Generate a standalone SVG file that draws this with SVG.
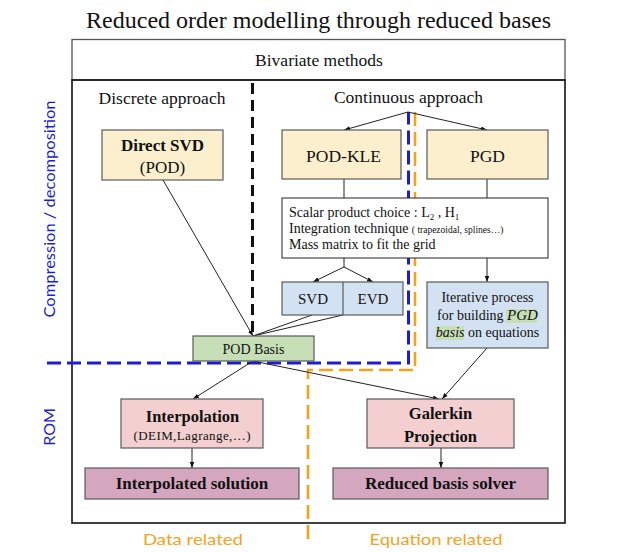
<svg xmlns="http://www.w3.org/2000/svg" width="630" height="552" viewBox="0 0 630 552">
<defs>
<marker id="ah" viewBox="0 0 8 8" refX="8" refY="4" markerWidth="6" markerHeight="6" orient="auto" markerUnits="userSpaceOnUse">
<path d="M0,1 L8,4 L0,7 Z" fill="#111"/>
</marker>
<style>
.s{font-family:"Liberation Serif","Times New Roman",serif;fill:#111}
.b{font-weight:bold}
.h{font-family:"Lato","Open Sans",sans-serif}
.bx{stroke:#5a5a5a;stroke-width:1.2}
.y{fill:#fcefce}
.bl{fill:#d3e2f2}
.g{fill:#c6dfb6}
.p{fill:#f3cfcf}
.m{fill:#d5a7be}
.c line,.c path{stroke:#222;stroke-width:1;fill:none}
</style>
</defs>
<rect width="630" height="552" fill="#fff"/>
<text class="s" x="318.5" y="28" font-size="23.5" text-anchor="middle" textLength="465" lengthAdjust="spacingAndGlyphs">Reduced order modelling through reduced bases</text>

<g id="frame">
<rect x="72" y="39.5" width="493" height="40.5" fill="none" stroke="#555" stroke-width="1.3"/>
<rect x="72" y="80" width="493" height="443" fill="none" stroke="#111" stroke-width="1.6"/>
<text class="s" x="319" y="66" font-size="17.5" text-anchor="middle">Bivariate methods</text>
<text class="s" x="162" y="104" font-size="17.5" text-anchor="middle">Discrete approach</text>
<text class="s" x="408.5" y="103" font-size="17.5" text-anchor="middle">Continuous approach</text>
</g>

<g id="separators" fill="none">
<path d="M252.5,83 V334" stroke="#111" stroke-width="3" stroke-dasharray="11,6"/>
<path d="M47,363 H408.5 V112" stroke="#1c1cd6" stroke-width="3" stroke-dasharray="14,6"/>
<path d="M415,112 V370 H308 V540" stroke="#f6a21d" stroke-width="2.6" stroke-dasharray="14,6"/>
</g>

<g id="labels" class="h">
<text x="0" y="0" font-size="16" fill="#1c1cd6" text-anchor="middle" transform="translate(55,209) rotate(-90)" textLength="217" lengthAdjust="spacingAndGlyphs">Compression / decomposition</text>
<text x="0" y="0" font-size="16" fill="#1c1cd6" text-anchor="middle" transform="translate(55,427) rotate(-90)">ROM</text>
<text x="193" y="545" font-size="16" fill="#f6a21d" text-anchor="middle" textLength="100" lengthAdjust="spacingAndGlyphs">Data related</text>
<text x="436" y="545" font-size="16" fill="#f6a21d" text-anchor="middle" textLength="133" lengthAdjust="spacingAndGlyphs">Equation related</text>
</g>

<g id="connectors" class="c">
<line x1="408" y1="112" x2="344" y2="130" marker-end="url(#ah)"/>
<line x1="408" y1="112" x2="487" y2="130" marker-end="url(#ah)"/>
<line x1="344" y1="179" x2="344" y2="198"/>
<line x1="487" y1="179" x2="487" y2="198"/>
<path d="M344,258 V267"/>
<line x1="344" y1="267" x2="313" y2="282" marker-end="url(#ah)"/>
<line x1="344" y1="267" x2="373" y2="282" marker-end="url(#ah)"/>
<line x1="487" y1="258" x2="487" y2="282" marker-end="url(#ah)"/>
<line x1="163" y1="180" x2="253" y2="336" marker-end="url(#ah)"/>
<line x1="312" y1="315" x2="253" y2="336"/>
<line x1="343" y1="315" x2="253" y2="336"/>
<line x1="253" y1="361" x2="193" y2="399" marker-end="url(#ah)"/>
<line x1="253" y1="361" x2="439" y2="399" marker-end="url(#ah)"/>
<line x1="487" y1="348" x2="442" y2="399" marker-end="url(#ah)"/>
<line x1="192" y1="448" x2="192" y2="468" marker-end="url(#ah)"/>
<line x1="441" y1="448" x2="441" y2="468" marker-end="url(#ah)"/>
</g>

<g id="direct-svd">
<rect class="bx y" x="102" y="130" width="121" height="50"/>
<text class="s b" x="162.5" y="151" font-size="17" text-anchor="middle">Direct SVD</text>
<text class="s" x="162.5" y="173" font-size="17" text-anchor="middle">(POD)</text>
</g>

<g id="pod-kle">
<rect class="bx y" x="282" y="130" width="119" height="49"/>
<text class="s" x="343.5" y="162" font-size="17.5" text-anchor="middle">POD-KLE</text>
</g>

<g id="pgd">
<rect class="bx y" x="427" y="130" width="121" height="49"/>
<text class="s" x="487.5" y="162" font-size="17.5" text-anchor="middle">PGD</text>
</g>

<g id="scalar-product">
<rect x="282" y="198" width="266" height="60" fill="#fff" stroke="#222" stroke-width="1"/>
<text class="s" x="289" y="217" font-size="14">Scalar product choice : L<tspan font-size="9" dy="3">2</tspan><tspan dy="-3"> , H</tspan><tspan font-size="9" dy="3">1</tspan></text>
<text class="s" x="289" y="233" font-size="14">Integration technique <tspan font-size="9.5">( trapezoidal, splines…)</tspan></text>
<text class="s" x="289" y="249" font-size="14">Mass matrix to fit the grid</text>
</g>

<g id="svd-evd">
<rect class="bx bl" x="282" y="282" width="121" height="33"/>
<line x1="343" y1="282" x2="343" y2="315" stroke="#5a5a5a" stroke-width="1.2"/>
<text class="s" x="313" y="304" font-size="15" text-anchor="middle">SVD</text>
<text class="s" x="373" y="304" font-size="15" text-anchor="middle">EVD</text>
</g>

<g id="iterative">
<rect class="bx bl" x="427" y="282" width="121" height="66"/>
<rect x="506" y="309" width="31" height="14" fill="#c6dfb6"/>
<rect x="436" y="326" width="28" height="14" fill="#c6dfb6"/>
<text class="s" x="487.5" y="302" font-size="14" text-anchor="middle">Iterative process</text>
<text class="s" x="487.5" y="320" font-size="14" text-anchor="middle">for building <tspan font-style="italic" font-size="15">PGD</tspan></text>
<text class="s" x="487.5" y="337" font-size="14" text-anchor="middle"><tspan font-style="italic">basis</tspan> on equations</text>
</g>

<g id="pod-basis">
<rect class="bx g" x="193" y="336" width="121" height="25"/>
<text class="s" x="253.5" y="354" font-size="14" text-anchor="middle">POD Basis</text>
</g>

<g id="interpolation">
<rect class="bx p" x="121" y="399" width="142" height="49"/>
<text class="s b" x="192.5" y="422" font-size="16.5" text-anchor="middle">Interpolation</text>
<text class="s" x="192" y="440" font-size="13" text-anchor="middle" textLength="117" lengthAdjust="spacing">(DEIM,Lagrange,…)</text>
</g>

<g id="galerkin">
<rect class="bx p" x="367" y="399" width="147" height="49"/>
<text class="s b" x="440.5" y="419" font-size="16.5" text-anchor="middle">Galerkin</text>
<text class="s b" x="440.5" y="442" font-size="16.5" text-anchor="middle">Projection</text>
</g>

<g id="interpolated-solution">
<rect class="bx m" x="85" y="468" width="214" height="31"/>
<text class="s b" x="192" y="489" font-size="17" text-anchor="middle">Interpolated solution</text>
</g>

<g id="reduced-basis-solver">
<rect class="bx m" x="333" y="468" width="215" height="31"/>
<text class="s b" x="440.5" y="489" font-size="17" text-anchor="middle">Reduced basis solver</text>
</g>
</svg>
